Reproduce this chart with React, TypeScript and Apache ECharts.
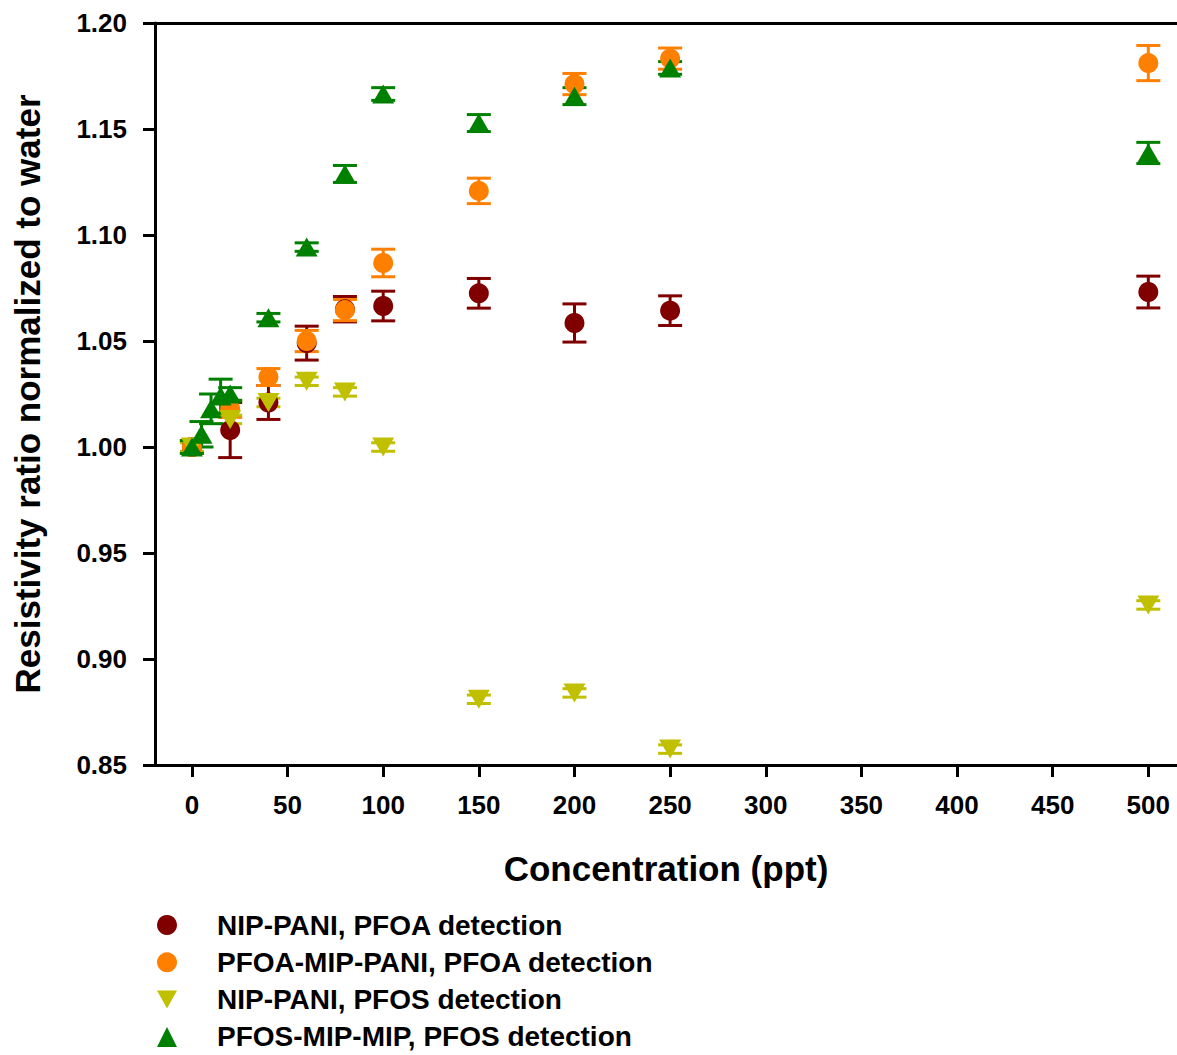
import React, { useEffect, useRef } from "react";
import * as echarts from "echarts";

// ---- data ----
const xTicks = [0, 50, 100, 150, 200, 250, 300, 350, 400, 450, 500];
const yTicks = [0.85, 0.9, 0.95, 1.0, 1.05, 1.1, 1.15, 1.2];

const nipPfoaX = [0, 20, 40, 60, 80, 100, 150, 200, 250, 500];
const nipPfoaY = [1.0, 1.008, 1.021, 1.049, 1.065, 1.0665, 1.0725, 1.0585, 1.0643, 1.0731];
const nipPfoaErr = [0.003, 0.013, 0.008, 0.008, 0.006, 0.007, 0.007, 0.009, 0.007, 0.0075];

const mipPfoaX = [0, 20, 40, 60, 80, 100, 150, 200, 250, 500];
const mipPfoaY = [1.0, 1.018, 1.033, 1.05, 1.0646, 1.0868, 1.1208, 1.1712, 1.1832, 1.1811];
const mipPfoaErr = [0.003, 0.004, 0.004, 0.005, 0.005, 0.0065, 0.006, 0.005, 0.005, 0.0083];

const nipPfosX = [0, 20, 40, 60, 80, 100, 150, 200, 250, 500];
const nipPfosY = [1.0, 1.013, 1.021, 1.031, 1.026, 1.0, 0.881, 0.884, 0.8575, 0.9255];
const nipPfosErr = [0.002, 0.002, 0.002, 0.002, 0.002, 0.002, 0.002, 0.002, 0.002, 0.002];

const mipPfosX = [0, 5, 10, 15, 20, 40, 60, 80, 100, 150, 200, 250, 500];
const mipPfosY = [1.0, 1.006, 1.018, 1.024, 1.025, 1.061, 1.0943, 1.1288, 1.1665, 1.1528, 1.1655, 1.1788, 1.1387];
const mipPfosErr = [0.003, 0.006, 0.007, 0.008, 0.003, 0.002, 0.002, 0.004, 0.003, 0.004, 0.004, 0.003, 0.005];

const seriesNames = [
  "NIP-PANI, PFOA detection",
  "PFOA-MIP-PANI, PFOA detection",
  "NIP-PANI, PFOS detection",
  "PFOS-MIP-MIP, PFOS detection",
];
const colors = ["#800000", "#FF8000", "#C0C000", "#008000"];

const FONT = "'Liberation Sans', Arial, sans-serif";
const DOWN_TRI = "path://M0,0L20,0L10,18Z";

function errBarSeries(xs: number[], ys: number[], errs: number[], color: string) {
  return {
    type: "custom",
    silent: true,
    data: xs.map((x, i) => [x, ys[i] - errs[i], ys[i] + errs[i]]),
    encode: { x: 0, y: [1, 2] },
    renderItem: (_p: any, api: any) => {
      const x = api.value(0);
      const lo = api.coord([x, api.value(1)]);
      const hi = api.coord([x, api.value(2)]);
      const hw = 12;
      const style = { stroke: color, lineWidth: 3 };
      return {
        type: "group",
        children: [
          { type: "line", shape: { x1: lo[0], y1: lo[1], x2: hi[0], y2: hi[1] }, style },
          { type: "line", shape: { x1: lo[0] - hw, y1: lo[1], x2: lo[0] + hw, y2: lo[1] }, style },
          { type: "line", shape: { x1: hi[0] - hw, y1: hi[1], x2: hi[0] + hw, y2: hi[1] }, style },
        ],
      };
    },
  };
}

function scatterSeries(name: string, xs: number[], ys: number[], color: string, symbol: string, size: any) {
  return {
    type: "scatter",
    name,
    data: xs.map((x, i) => [x, ys[i]]),
    symbol,
    symbolSize: size,
    itemStyle: { color, opacity: 1 },
  };
}

export default function App() {
  const ref = useRef<HTMLDivElement>(null);
  useEffect(() => {
    document.body.style.margin = "0";
    const chart = echarts.init(ref.current!, null, { renderer: "svg" });
    const axisLine = { show: true, lineStyle: { color: "#000", width: 3 } };
    const legends = seriesNames.map((n, i) => ({
      data: [n],
      orient: "vertical",
      left: 157,
      top: 911 + 37.3 * i,
      padding: 0,
      itemWidth: 20,
      itemHeight: 20,
      textStyle: {
        fontSize: 28,
        lineHeight: 26,
        fontWeight: "bold",
        fontFamily: FONT,
        color: "#000",
        padding: [0, 0, 0, 35],
      },
      selectedMode: false,
    }));
    chart.setOption({
      animation: false,
      backgroundColor: "#fff",
      grid: { left: 155, top: 23, right: 0, bottom: 290, containLabel: false },
      xAxis: [
        {
          type: "value",
          min: -19.3,
          max: 515,
          axisLine: { ...axisLine, onZero: false },
          axisTick: { show: true, customValues: xTicks, length: 12, lineStyle: { color: "#000", width: 3 } },
          axisLabel: {
            customValues: xTicks,
            margin: 27,
            fontSize: 26,
            fontWeight: "bold",
            fontFamily: FONT,
            color: "#000",
          },
          splitLine: { show: false },
          name: "Concentration (ppt)",
          nameLocation: "middle",
          nameGap: 86,
          nameTextStyle: { fontSize: 35, fontWeight: "bold", fontFamily: FONT, color: "#000" },
        },
        {
          type: "value",
          position: "top",
          min: -19.3,
          max: 515,
          axisLine: { ...axisLine, onZero: false },
          axisTick: { show: false },
          axisLabel: { show: false },
          splitLine: { show: false },
        },
      ],
      yAxis: {
        type: "value",
        min: 0.85,
        max: 1.2,
        axisLine: { ...axisLine, onZero: false },
        axisTick: { show: true, customValues: yTicks, length: 12, lineStyle: { color: "#000", width: 3 } },
        axisLabel: {
          customValues: yTicks,
          margin: 28,
          fontSize: 26,
          fontWeight: "bold",
          fontFamily: FONT,
          color: "#000",
          formatter: (v: number) => v.toFixed(2),
        },
        splitLine: { show: false },
        name: "Resistivity ratio normalized to water",
        nameLocation: "middle",
        nameGap: 110,
        nameTextStyle: { fontSize: 35, fontWeight: "bold", fontFamily: FONT, color: "#000" },
      },
      legend: legends,
      series: [
        errBarSeries(nipPfoaX, nipPfoaY, nipPfoaErr, colors[0]),
        scatterSeries(seriesNames[0], nipPfoaX, nipPfoaY, colors[0], "circle", 20),
        errBarSeries(mipPfoaX, mipPfoaY, mipPfoaErr, colors[1]),
        scatterSeries(seriesNames[1], mipPfoaX, mipPfoaY, colors[1], "circle", 20),
        errBarSeries(nipPfosX, nipPfosY, nipPfosErr, colors[2]),
        scatterSeries(seriesNames[2], nipPfosX, nipPfosY, colors[2], DOWN_TRI, [22, 19]),
        errBarSeries(mipPfosX, mipPfosY, mipPfosErr, colors[3]),
        scatterSeries(seriesNames[3], mipPfosX, mipPfosY, colors[3], "triangle", [22, 19]),
      ],
    });
    return () => chart.dispose();
  }, []);
  return (
    <div
      ref={ref}
      style={{ position: "absolute", left: 0, top: 0, width: 1177, height: 1055, overflow: "hidden" }}
    />
  );
}
